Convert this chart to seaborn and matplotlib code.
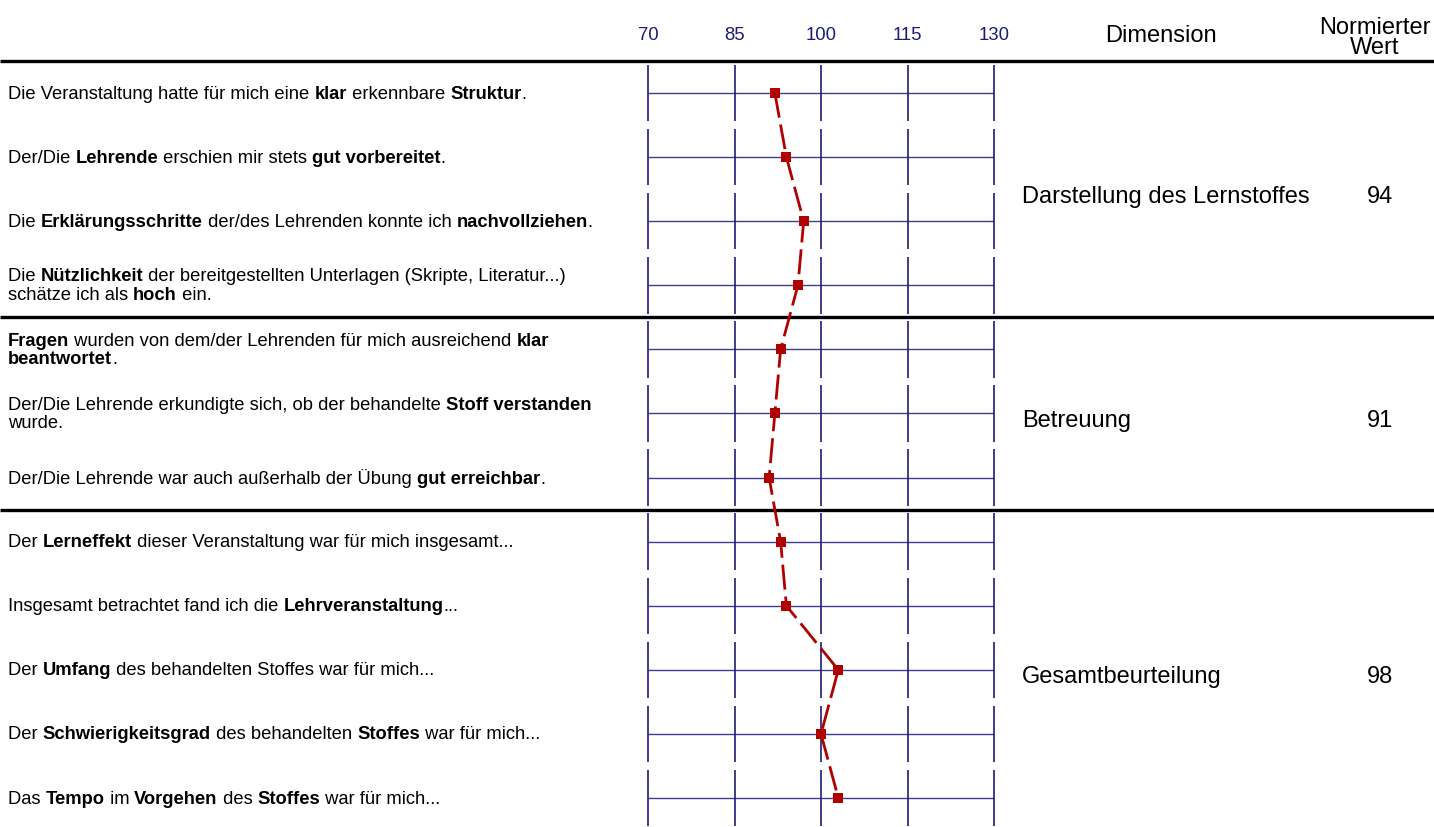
import matplotlib
matplotlib.use("Agg")
import matplotlib.pyplot as plt
import matplotlib.transforms as mtransforms
import seaborn as sns
import pandas as pd

# items (bold parts marked with **, line breaks with \n)
items = [
    "Die Veranstaltung hatte für mich eine **klar** erkennbare **Struktur**.",
    "Der/Die **Lehrende** erschien mir stets **gut vorbereitet**.",
    "Die **Erklärungsschritte** der/des Lehrenden konnte ich **nachvollziehen**.",
    "Die **Nützlichkeit** der bereitgestellten Unterlagen (Skripte, Literatur...)\nschätze ich als **hoch** ein.",
    "**Fragen** wurden von dem/der Lehrenden für mich ausreichend **klar**\n**beantwortet**.",
    "Der/Die Lehrende erkundigte sich, ob der behandelte **Stoff verstanden**\nwurde.",
    "Der/Die Lehrende war auch außerhalb der Übung **gut erreichbar**.",
    "Der **Lerneffekt** dieser Veranstaltung war für mich insgesamt...",
    "Insgesamt betrachtet fand ich die **Lehrveranstaltung**...",
    "Der **Umfang** des behandelten Stoffes war für mich...",
    "Der **Schwierigkeitsgrad** des behandelten **Stoffes** war für mich...",
    "Das **Tempo** im **Vorgehen** des **Stoffes** war für mich...",
]
werte = [92, 94, 97, 96, 93, 92, 91, 93, 94, 103, 100, 103]

dimensionen = ["Darstellung des Lernstoffes", "Betreuung", "Gesamtbeurteilung"]
dim_werte = [94, 91, 98]
dim_anzahl = [4, 3, 5]

skala = [70, 85, 100, 115, 130]

navy = "#1c1c78"
rot = "#b00000"

sns.set_style("white")
plt.rcParams["font.family"] = ["Liberation Sans", "DejaVu Sans"]
plt.rcParams["text.color"] = "black"

W, H = 1434, 828
fig = plt.figure(figsize=(W / 100, H / 100), dpi=100)

# plot area: x 70..130 -> px 648..994, top at px 62
ax = fig.add_axes([648 / W, 0, (994 - 648) / W, (H - 62) / H])
n = len(items)
row_px = 64.09
ax.set_xlim(70, 130)
ax.set_ylim(-0.5 + (H - 62) / row_px, -0.5)

# grid: one segment per row
for i in range(n):
    ax.hlines(i, skala[0], skala[-1], color=navy, lw=1.0, alpha=0.85)
    ax.vlines(skala, i - 0.44, i + 0.44, color=navy, lw=1.2, clip_on=False)

df = pd.DataFrame({"wert": werte, "zeile": range(n)})
sns.lineplot(data=df, x="wert", y="zeile", orient="y", sort=False, estimator=None,
             color=rot, lw=2.0, marker="s", markersize=6.5, markeredgewidth=0,
             ax=ax, zorder=5)
ax.lines[-1].set_linestyle((0, (9, 2.5)))
ax.lines[-1].set_markerfacecolor(rot)

ax.set_xticks(skala)
ax.set_yticks([])
ax.set_xlabel("")
ax.set_ylabel("")
ax.xaxis.tick_top()
ax.tick_params(axis="x", length=0, pad=13, labelsize=13.3, colors=navy,
               top=False, bottom=False, labeltop=True, labelbottom=False)
for s in ax.spines.values():
    s.set_visible(False)

# thick separators across the full width
blend = mtransforms.blended_transform_factory(fig.transFigure, ax.transData)
grenzen = [-0.5]
acc = 0
for k in dim_anzahl[:-1]:
    acc += k
    grenzen.append(acc - 0.5)
for g in grenzen:
    ax.plot([0, 1], [g, g], transform=blend, color="black", lw=2.4,
            clip_on=False, solid_capstyle="butt")


def rich_line(x, y, line, dy_pt, size=13.2):
    base = mtransforms.offset_copy(blend, fig=fig, x=0, y=dy_pt, units="points")
    parts = line.split("**")
    prev = None
    for j, p in enumerate(parts):
        if p == "":
            continue
        weight = "bold" if j % 2 == 1 else "normal"
        if prev is None:
            prev = ax.text(x, y, p, transform=base, fontsize=size, fontweight=weight,
                           va="center", ha="left", clip_on=False)
        else:
            prev = ax.annotate(p, xy=(1, 0), xycoords=prev, fontsize=size,
                               fontweight=weight, va="bottom", ha="left",
                               annotation_clip=False)


line_pt = 13.5
for i, lab in enumerate(items):
    zeilen = lab.split("\n")
    m = len(zeilen)
    for k, z in enumerate(zeilen):
        dy = ((m - 1) / 2 - k) * line_pt
        rich_line(8 / W, i, z, dy)

# header texts
fig.text(1161 / W, 1 - 36 / H, "Dimension", ha="center", va="center", fontsize=17)
fig.text(1375 / W, 1 - 38 / H, "Normierter\nWert", ha="center", va="center",
         fontsize=17, linespacing=0.88, multialignment="center")

# dimension labels and values
start = 0
for name, val, k in zip(dimensionen, dim_werte, dim_anzahl):
    mid = start + (k - 1) / 2 + 0.1
    ax.text(1022 / W, mid, name, transform=blend, ha="left", va="center",
            fontsize=17, clip_on=False)
    ax.text(1380 / W, mid, str(val), transform=blend, ha="center", va="center",
            fontsize=17, clip_on=False)
    start += k

fig.savefig("out.png", dpi=100)
